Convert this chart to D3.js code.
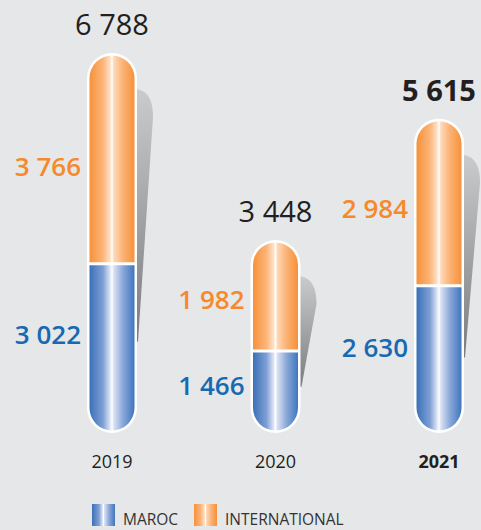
<!DOCTYPE html>
<html>
<head>
<meta charset="utf-8">
<script src="https://cdn.jsdelivr.net/npm/d3@7"></script>
<style>
  html, body { margin: 0; padding: 0; background: #e6e7e9; }
  svg { display: block; font-family: "Open Sans", sans-serif; }
</style>
</head>
<body>
<div id="chart"></div>
<script>
var years = ["2019", "2020", "2021"];
var maroc = [3022, 1466, 2630];
var international = [3766, 1982, 2984];
var totals = [6788, 3448, 5615];
var seriesNames = ["MAROC", "INTERNATIONAL"];

var width = 481, height = 530;

var fmt = function(v) { return d3.format(",")(v).replace(/,/g, " "); };

var svg = d3.select("#chart").append("svg")
    .attr("width", width)
    .attr("height", height);

var defs = svg.append("defs");

// horizontal "tube" gradients
var grad = function(id, stops) {
  var g = defs.append("linearGradient").attr("id", id)
      .attr("x1", "0").attr("x2", "1").attr("y1", "0").attr("y2", "0");
  g.selectAll("stop").data(stops).enter().append("stop")
      .attr("offset", function(d) { return d[0]; })
      .attr("stop-color", function(d) { return d[1]; });
};
grad("gBlue", [[0, "#3a71b8"], [0.3, "#7f9fd4"], [0.46, "#dfe6f6"], [0.5, "#ffffff"], [0.54, "#d9e2f4"], [0.75, "#88a6d8"], [1, "#3f76bd"]]);
grad("gOrange", [[0, "#f7913a"], [0.3, "#fbb57a"], [0.46, "#fee2c8"], [0.5, "#ffffff"], [0.54, "#fed9b8"], [0.75, "#fbb173"], [1, "#f7913a"]]);

var sh = defs.append("linearGradient").attr("id", "gShadow")
    .attr("x1", "0").attr("x2", "0").attr("y1", "0").attr("y2", "1");
sh.append("stop").attr("offset", 0).attr("stop-color", "#cacbcd");
sh.append("stop").attr("offset", 1).attr("stop-color", "#7b7c7e");

var x = d3.scalePoint().domain(years).range([112, 439]);
var y = d3.scaleLinear().domain([0, d3.max(totals)]).range([433, 53]);

var half = 25, border = 2.5, r = half - border, gap = 1.5;

var data = years.map(function(yr, i) {
  return { year: yr, maroc: maroc[i], intl: international[i], total: totals[i], last: i == years.length - 1 };
});

var bar = svg.selectAll("g.bar").data(data).enter().append("g")
    .attr("class", "bar")
    .attr("transform", function(d) { return "translate(" + x(d.year) + ",0)"; });

// shadow behind the tube
bar.append("path")
    .attr("fill", "url(#gShadow)")
    .attr("d", function(d) {
      var top = y(d.total), h = y(0) - top;
      var s0 = top + 36, s1 = top + 0.76 * h;
      return "M" + (half - 2) + "," + s0 +
        " C" + (half + 10) + "," + (s0 + 1) + " " + (half + 16) + "," + (s0 + 10) + " " + (half + 16) + "," + (s0 + 28) +
        " L" + (half + 1) + "," + s1 + " L" + (half - 2) + "," + s1 + " Z";
    });

// white outline capsule
bar.append("rect")
    .attr("x", -half)
    .attr("y", function(d) { return y(d.total); })
    .attr("width", half * 2)
    .attr("height", function(d) { return y(0) - y(d.total); })
    .attr("rx", half)
    .attr("fill", "#ffffff");

// international segment (top, rounded)
bar.append("path")
    .attr("fill", "url(#gOrange)")
    .attr("d", function(d) {
      var top = y(d.total) + border, div = y(d.maroc) - gap;
      return "M" + (-r) + "," + div + " L" + (-r) + "," + (top + r) +
        " A" + r + "," + r + " 0 0 1 " + r + "," + (top + r) +
        " L" + r + "," + div + " Z";
    });

// maroc segment (bottom, rounded)
bar.append("path")
    .attr("fill", "url(#gBlue)")
    .attr("d", function(d) {
      var bot = y(0) - border, div = y(d.maroc) + gap;
      return "M" + (-r) + "," + div + " L" + r + "," + div +
        " L" + r + "," + (bot - r) +
        " A" + r + "," + r + " 0 0 1 " + (-r) + "," + (bot - r) + " Z";
    });

// totals
bar.append("text")
    .attr("text-anchor", "middle")
    .attr("y", function(d) { return y(d.total) - 18; })
    .attr("font-size", 29)
    .attr("font-weight", function(d) { return d.last ? 700 : 400; })
    .attr("fill", "#231f20")
    .text(function(d) { return fmt(d.total); });

// segment values
bar.append("text")
    .attr("text-anchor", "end")
    .attr("x", -half - 6)
    .attr("y", function(d) { var h = y(d.maroc) - y(d.total); return y(d.maroc) - 0.46 * h + 9.5; })
    .attr("font-size", 26)
    .attr("font-weight", 600)
    .attr("fill", "#f5892c")
    .text(function(d) { return fmt(d.intl); });

bar.append("text")
    .attr("text-anchor", "end")
    .attr("x", -half - 6)
    .attr("y", function(d) { var h = y(0) - y(d.maroc); return y(0) - 0.58 * h + 9.5; })
    .attr("font-size", 26)
    .attr("font-weight", 600)
    .attr("fill", "#1769b2")
    .text(function(d) { return fmt(d.maroc); });

// years
bar.append("text")
    .attr("text-anchor", "middle")
    .attr("y", 468)
    .attr("font-size", 18)
    .attr("font-weight", function(d) { return d.last ? 700 : 400; })
    .attr("fill", "#231f20")
    .text(function(d) { return d.year; });

// legend
var legend = svg.selectAll("g.legend").data(seriesNames).enter().append("g")
    .attr("class", "legend")
    .attr("transform", function(d, i) { return "translate(" + (92 + i * 102) + ",504)"; });

legend.append("rect")
    .attr("width", 23)
    .attr("height", 22)
    .attr("fill", function(d, i) { return i == 0 ? "url(#gBlue)" : "url(#gOrange)"; });

legend.append("text")
    .attr("x", 31)
    .attr("y", 21)
    .attr("font-size", 15.5)
    .attr("fill", "#333333")
    .text(function(d) { return d; });
</script>
</body>
</html>
